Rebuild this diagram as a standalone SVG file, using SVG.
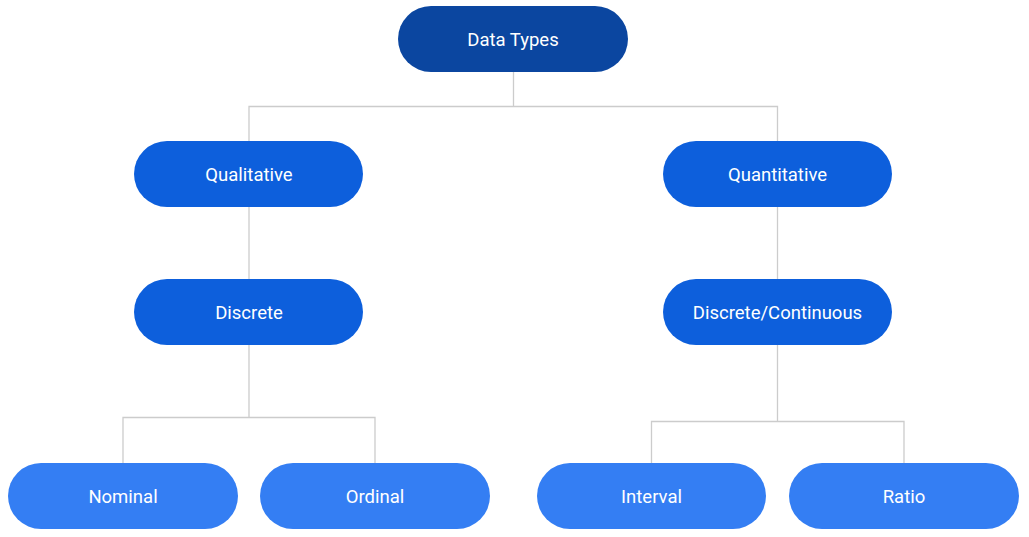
<svg xmlns="http://www.w3.org/2000/svg" width="1029" height="537" viewBox="0 0 1029 537">
<style>
.lnk{fill:none;stroke:#cccccc;stroke-width:1.3}
.n0{fill:#0b46a0}
.n1{fill:#0d5fdc}
.n2{fill:#347ef3}
text{font-family:Roboto,"Liberation Sans",sans-serif;font-size:18.5px;fill:#ffffff;text-anchor:middle;dominant-baseline:central}
</style>
<rect width="1029" height="537" fill="#ffffff"/>
<g id="connectors">
<path class="lnk" d="M513.5 72V106.5M249 141V106.5H777.5V141"/>
<path class="lnk" d="M249 207V279"/>
<path class="lnk" d="M777.5 207V279"/>
<path class="lnk" d="M249 345V417.5M123 463V417.5H375V463"/>
<path class="lnk" d="M777.5 345V421.5M651.5 463V421.5H904V463"/>
</g>
<g id="data-types"><rect class="n0" x="398" y="6" width="230" height="66" rx="33"/><text x="513" y="40">Data Types</text></g>
<g id="qualitative"><rect class="n1" x="134" y="141" width="229" height="66" rx="33"/><text x="249" y="175">Qualitative</text></g>
<g id="quantitative"><rect class="n1" x="663" y="141" width="229" height="66" rx="33"/><text x="777.5" y="175">Quantitative</text></g>
<g id="discrete"><rect class="n1" x="134" y="279" width="229" height="66" rx="33"/><text x="249" y="313">Discrete</text></g>
<g id="discrete-continuous"><rect class="n1" x="663" y="279" width="229" height="66" rx="33"/><text x="777.5" y="313">Discrete/Continuous</text></g>
<g id="nominal"><rect class="n2" x="8" y="463" width="230" height="66" rx="33"/><text x="123" y="497">Nominal</text></g>
<g id="ordinal"><rect class="n2" x="260" y="463" width="230" height="66" rx="33"/><text x="375" y="497">Ordinal</text></g>
<g id="interval"><rect class="n2" x="537" y="463" width="229" height="66" rx="33"/><text x="651.5" y="497">Interval</text></g>
<g id="ratio"><rect class="n2" x="789" y="463" width="230" height="66" rx="33"/><text x="904" y="497">Ratio</text></g>
</svg>
